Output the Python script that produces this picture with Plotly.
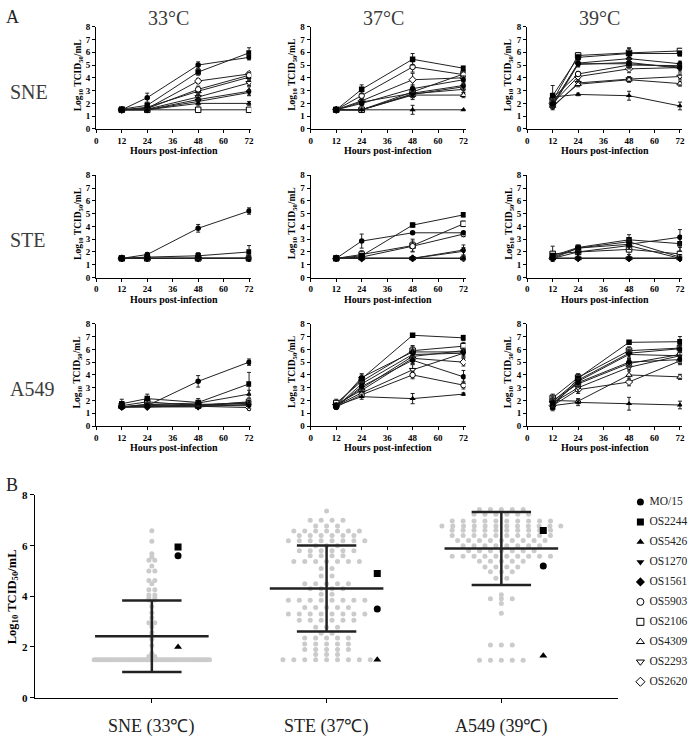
import plotly.graph_objects as go

W, H = 696, 743

STRAINS = ["MO/15", "OS2244", "OS5426", "OS1270", "OS1561",
           "OS5903", "OS2106", "OS4309", "OS2293", "OS2620"]
SYMBOLS = ["circle", "square", "triangle-up", "triangle-down", "diamond",
           "circle", "square", "triangle-up", "triangle-down", "diamond"]
FILLED = [True, True, True, True, True, False, False, False, False, False]
HOURS = [12, 24, 48, 72]
TEMPS = ["33°C", "37°C", "39°C"]
CELLS = ["SNE", "STE", "A549"]

# ---- Panel A data (log10 TCID50/mL), strain order as STRAINS ----
SNE_33 = [[1.5, 2.45, 5.0, 5.6], [1.55, 1.85, 4.45, 5.95], [1.5, 1.5, 2.0, 2.0],
          [1.5, 1.5, 2.15, 2.85], [1.5, 1.5, 2.3, 2.95], [1.5, 1.6, 3.1, 4.2],
          [1.5, 1.5, 1.5, 1.5], [1.5, 1.7, 2.95, 4.05], [1.5, 1.55, 2.5, 3.6],
          [1.5, 1.6, 3.75, 4.3]]
SNE_33_SD = [[0.1, 0.35, 0.25, 0.2], [0.1, 0.2, 0.25, 0.4], [0, 0, 0.2, 0.15],
             [0, 0.1, 0.2, 0.2], [0, 0.1, 0.2, 0.35], [0, 0.1, 0.25, 0.15],
             [0, 0, 0.05, 0], [0, 0.1, 0.2, 0.2], [0, 0.1, 0.2, 0.2], [0, 0.1, 0.2, 0.15]]
SNE_37 = [[1.5, 2.0, 3.15, 3.85], [1.5, 3.1, 5.45, 4.75], [1.5, 1.5, 1.5, 1.5],
          [1.5, 1.5, 2.7, 3.3], [1.5, 2.1, 2.8, 3.4], [1.5, 2.6, 4.85, 4.25],
          [1.5, 1.5, 2.9, 4.3], [1.5, 1.5, 2.65, 2.65], [1.5, 1.5, 2.75, 3.1],
          [1.5, 2.2, 3.85, 4.0]]
SNE_37_SD = [[0, 0.2, 0.3, 0.3], [0.1, 0.35, 0.45, 0.15], [0, 0, 0.35, 0],
             [0, 0, 0.25, 0.3], [0, 0.15, 0.3, 0.3], [0.1, 0.3, 0.4, 0.2],
             [0, 0, 0.3, 0.2], [0, 0, 0.35, 0.2], [0, 0, 0.3, 0.3], [0, 0.2, 0.5, 0.2]]
SNE_39 = [[2.0, 5.1, 5.1, 4.85], [2.6, 5.6, 5.9, 5.9], [2.5, 2.7, 2.6, 1.8],
          [1.8, 5.05, 5.2, 4.75], [1.9, 5.15, 5.5, 5.1], [2.4, 4.3, 5.0, 4.95],
          [2.2, 5.75, 5.95, 6.1], [1.8, 3.5, 3.85, 3.55], [1.7, 3.6, 3.9, 4.1],
          [2.0, 4.1, 4.7, 4.8]]
SNE_39_SD = [[0.3, 0.2, 0.3, 0.2], [0.8, 0.2, 0.4, 0.2], [0.3, 0.1, 0.35, 0.3],
             [0.2, 0.2, 0.3, 0.3], [0.3, 0.2, 0.3, 0.2], [0.3, 0.2, 0.3, 0.2],
             [0.4, 0.2, 0.4, 0.15], [0.2, 0.2, 0.2, 0.2], [0.2, 0.2, 0.2, 0.2],
             [0.2, 0.2, 0.3, 0.2]]
STE_33 = [[1.5, 1.8, 3.85, 5.2], [1.5, 1.6, 1.7, 2.0], [1.5, 1.5, 1.5, 1.5],
          [1.5, 1.5, 1.5, 1.5], [1.5, 1.5, 1.5, 1.5], [1.5, 1.5, 1.5, 1.5],
          [1.5, 1.5, 1.5, 1.5], [1.5, 1.5, 1.5, 1.5], [1.5, 1.5, 1.5, 1.5],
          [1.5, 1.5, 1.5, 1.5]]
STE_33_SD = [[0, 0.15, 0.3, 0.25], [0, 0.1, 0.25, 0.5], [0, 0, 0, 0], [0, 0, 0, 0],
             [0, 0, 0, 0], [0, 0, 0, 0], [0, 0, 0, 0], [0, 0, 0, 0], [0, 0, 0, 0],
             [0, 0, 0, 0]]
STE_37 = [[1.5, 2.85, 3.5, 3.5], [1.5, 1.7, 4.1, 4.9], [1.5, 1.5, 1.5, 1.5],
          [1.5, 1.5, 1.5, 2.05], [1.5, 1.5, 1.5, 2.15], [1.5, 1.6, 2.45, 3.4],
          [1.5, 1.8, 2.5, 4.2], [1.5, 1.5, 1.5, 1.5], [1.5, 1.5, 1.5, 1.5],
          [1.5, 1.5, 1.5, 1.5]]
STE_37_SD = [[0, 0.55, 0.1, 0.1], [0, 0.1, 0.15, 0.15], [0, 0, 0, 0], [0, 0, 0, 0.3],
             [0, 0, 0, 0.4], [0, 0.2, 0.4, 0.2], [0, 0.3, 0.5, 0.2], [0, 0, 0, 0],
             [0, 0, 0, 0], [0, 0, 0, 0]]
STE_39 = [[1.5, 2.3, 2.6, 3.15], [1.7, 2.35, 2.95, 2.65], [1.5, 1.5, 1.5, 1.5],
          [1.5, 1.5, 1.5, 1.5], [1.5, 2.0, 2.5, 1.5], [1.6, 2.3, 2.8, 1.6],
          [1.85, 2.0, 2.2, 1.85], [1.5, 1.5, 1.5, 1.5], [1.5, 1.5, 1.5, 1.5],
          [1.5, 1.5, 1.5, 1.5]]
STE_39_SD = [[0, 0.2, 0.4, 0.6], [0.2, 0.2, 0.4, 0.6], [0, 0, 0, 0], [0, 0, 0, 0],
             [0, 0.2, 0.3, 0], [0.2, 0.2, 0.3, 0.2], [0.6, 0.2, 0.4, 0.5], [0, 0, 0, 0],
             [0, 0, 0, 0], [0, 0, 0, 0]]
A549_33 = [[1.5, 1.6, 3.5, 5.0], [1.75, 2.15, 1.85, 3.3], [1.5, 1.7, 1.8, 2.5],
           [1.5, 1.5, 1.6, 1.6], [1.5, 1.5, 1.5, 1.7], [1.5, 1.7, 1.6, 1.8],
           [1.6, 1.9, 1.6, 1.9], [1.5, 1.6, 1.7, 1.75], [1.5, 1.55, 1.65, 1.85],
           [1.5, 1.5, 1.55, 1.45]]
A549_33_SD = [[0, 0.1, 0.45, 0.25], [0.35, 0.35, 0.3, 0.9], [0, 0.1, 0.2, 0.3],
              [0, 0.1, 0.1, 0.2], [0, 0.1, 0.1, 0.2], [0, 0.1, 0.1, 0.2],
              [0.2, 0.3, 0.2, 0.2], [0, 0.1, 0.1, 0.2], [0, 0.1, 0.1, 0.2],
              [0, 0.1, 0.1, 0.2]]
A549_37 = [[1.5, 3.1, 5.15, 3.85], [1.6, 3.7, 7.1, 6.9], [1.6, 2.3, 2.15, 2.5],
           [1.5, 3.3, 5.6, 5.7], [1.6, 3.8, 5.8, 5.8], [1.5, 2.45, 4.0, 3.2],
           [1.8, 3.5, 5.9, 6.25], [1.6, 2.95, 5.45, 5.9], [1.6, 2.6, 4.4, 5.7],
           [1.7, 2.8, 5.3, 5.0]]
A549_37_SD = [[0.1, 0.3, 0.3, 0.5], [0.2, 0.3, 0.1, 0.2], [0.1, 0.2, 0.4, 0.1],
              [0.2, 0.3, 0.4, 0.3], [0.2, 0.3, 0.4, 0.3], [0.1, 0.2, 0.3, 0.3],
              [0.3, 0.3, 0.4, 0.3], [0.2, 0.3, 0.4, 0.3], [0.2, 0.3, 0.4, 0.3],
              [0.2, 0.3, 0.4, 0.3]]
A549_39 = [[1.8, 3.4, 5.0, 5.2], [1.5, 3.75, 6.55, 6.6], [1.6, 1.85, 1.75, 1.65],
           [1.7, 3.5, 5.6, 5.5], [1.9, 3.6, 5.7, 6.05], [2.0, 3.3, 4.9, 5.6],
           [2.2, 3.8, 5.9, 6.1], [2.0, 1.95, 4.0, 3.85], [1.8, 3.0, 4.6, 5.5],
           [1.6, 2.85, 3.45, 5.1]]
A549_39_SD = [[0.3, 0.3, 0.3, 0.3], [0.3, 0.3, 0.1, 0.4], [0.1, 0.25, 0.5, 0.3],
              [0.3, 0.3, 0.3, 0.3], [0.3, 0.3, 0.3, 0.3], [0.3, 0.3, 0.3, 0.3],
              [0.3, 0.3, 0.3, 0.3], [0.2, 0.2, 0.4, 0.2], [0.3, 0.3, 0.3, 0.3],
              [0.3, 0.3, 0.3, 0.3]]

PANELS = [[SNE_33, SNE_37, SNE_39], [STE_33, STE_37, STE_39], [A549_33, A549_37, A549_39]]
PANEL_SD = [[SNE_33_SD, SNE_37_SD, SNE_39_SD], [STE_33_SD, STE_37_SD, STE_39_SD],
            [A549_33_SD, A549_37_SD, A549_39_SD]]

# ---- Panel B data ----
B_GROUPS = ["SNE (33℃)", "STE (37℃)", "A549 (39℃)"]
SNE_LEVELS = [1.5, 1.62, 1.75, 2.06, 2.3, 2.45, 2.57, 2.8, 2.96, 3.15, 3.35, 3.6, 3.85,
              3.93, 4.05, 4.26, 4.5, 4.62, 5.0, 5.2, 5.42, 5.55, 5.68, 6.17, 6.59]
SNE_COUNTS = [55, 2, 1, 1, 1, 1, 1, 1, 2, 1, 1, 1, 2, 2, 2, 2, 1, 2, 2, 1, 2, 1, 1, 1, 1]
STE_LEVELS = [7.37, 7.0, 6.78, 6.58, 6.4, 6.19, 6.0, 5.8, 5.6, 5.37, 5.1, 4.8, 4.5, 4.3,
              4.08, 3.84, 3.56, 3.3, 3.05, 2.78, 2.54, 2.35, 2.12, 1.9, 1.7, 1.5]
STE_COUNTS = [1, 4, 3, 7, 6, 8, 3, 6, 4, 7, 2, 2, 5, 4, 2, 8, 5, 8, 6, 3, 2, 5, 5, 5, 3, 9]
A549_LEVELS = [7.43, 7.24, 6.97, 6.78, 6.61, 6.4, 6.2, 6.0, 5.8, 5.58, 5.38, 5.16, 4.97,
               4.71, 4.06, 3.9, 3.72, 3.33, 2.08, 1.48]
A549_COUNTS = [5, 6, 10, 12, 10, 10, 9, 8, 7, 10, 5, 4, 3, 2, 1, 3, 1, 1, 3, 5]
B_MEAN = [2.42, 4.31, 5.89]
B_SD = [1.41, 1.70, 1.44]
REF_STRAINS = [0, 1, 2]  # MO/15, OS2244, OS5426 shown at 72 h of matching panel

# ---- styling / layout constants ----
FONT = "Liberation Serif"
GREY_TXT = "#3c3c3c"
COL_X0 = [95, 311, 529]
PANEL_W = 156
ROW_Y0 = [21, 172, 323]
PANEL_H = 104
B_X = (33, 620)
B_Y = (497, 703)
B_RANGE = [-0.67, 2.665]
SWARM = [dict(spacing=0.034, maxhalf=0.33), dict(spacing=0.0625, maxhalf=0.30),
         dict(spacing=0.0625, maxhalf=0.34)]
REF_OFFSET = [0.15, 0.29, 0.24]
LEG_X = (636, 696)
LEG_Y = (494, 697)
LEG_COLS = [0.117, 0.27]


def fx(p):
    return p / W


def fy(p):
    return 1 - p / H


def mstyle(i, size):
    if FILLED[i]:
        return dict(symbol=SYMBOLS[i], size=size, color="black", line=dict(width=0))
    return dict(symbol=SYMBOLS[i], size=size, color="white", line=dict(color="black", width=1))


fig = go.Figure()
layout = dict(width=W, height=H, margin=dict(l=0, r=0, t=0, b=0, pad=0), autosize=False,
              plot_bgcolor="white", paper_bgcolor="white", showlegend=False,
              font=dict(family=FONT, color="black"))
annotations = []

axis_common = dict(showline=True, linecolor="black", linewidth=1.3, ticks="outside",
                   ticklen=3, tickwidth=1, tickcolor="black", showgrid=False, zeroline=False,
                   tickfont=dict(family=FONT, size=9, color="black", weight="bold"))

for r in range(3):
    for c in range(3):
        k = r * 3 + c + 1
        sx = "" if k == 1 else str(k)
        x0 = COL_X0[c]
        y0 = ROW_Y0[r]
        layout["xaxis" + sx] = dict(axis_common, domain=[fx(x0), fx(x0 + PANEL_W)],
                                    range=[0, 73], tickvals=[0, 12, 24, 36, 48, 60, 72],
                                    anchor="y" + sx)
        layout["yaxis" + sx] = dict(axis_common, domain=[fy(y0 + PANEL_H), fy(y0)],
                                    range=[0, 8], tickvals=list(range(9)), anchor="x" + sx)
        data = PANELS[r][c]
        sd = PANEL_SD[r][c]
        for i in reversed(range(len(STRAINS))):
            fig.add_trace(go.Scatter(
                x=HOURS, y=data[i], mode="lines+markers", xaxis="x" + sx, yaxis="y" + sx,
                line=dict(color="#222", width=1), marker=mstyle(i, 5.5),
                error_y=dict(type="data", array=sd[i], color="#222", thickness=1, width=2),
                showlegend=False, name=STRAINS[i]))
        annotations.append(dict(text="<b>Hours post-infection</b>", xref="paper", yref="paper",
                                x=fx(x0 + PANEL_W / 2), y=fy(y0 + PANEL_H + 22), showarrow=False,
                                font=dict(family=FONT, size=10), xanchor="center", yanchor="middle"))
        annotations.append(dict(text="<b>Log<sub>10</sub> TCID<sub>50</sub>/mL</b>", xref="paper",
                                yref="paper", x=fx(x0 - 18), y=fy(y0 + PANEL_H / 2 - 3),
                                showarrow=False, textangle=-90, font=dict(family=FONT, size=9.5),
                                xanchor="center", yanchor="middle"))

for c, t in enumerate(TEMPS):
    annotations.append(dict(text=t, xref="paper", yref="paper", x=fx(COL_X0[c] + 73),
                            y=fy(12), showarrow=False, xanchor="center", yanchor="middle",
                            font=dict(family=FONT, size=20, color=GREY_TXT)))
for r, t in enumerate(CELLS):
    annotations.append(dict(text=t, xref="paper", yref="paper", x=fx(6),
                            y=fy(ROW_Y0[r] + 66), showarrow=False, xanchor="left", yanchor="middle",
                            font=dict(family=FONT, size=20, color=GREY_TXT)))
annotations.append(dict(text="A", xref="paper", yref="paper", x=fx(2), y=fy(11), showarrow=False,
                        xanchor="left", yanchor="middle", font=dict(family=FONT, size=18, color="#222")))
annotations.append(dict(text="B", xref="paper", yref="paper", x=fx(2), y=fy(487), showarrow=False,
                        xanchor="left", yanchor="middle", font=dict(family=FONT, size=18, color="#222")))

# ---- Panel B ----
layout["xaxis10"] = dict(axis_common, domain=[fx(B_X[0]), fx(B_X[1])], range=B_RANGE,
                         tickvals=[0, 1, 2], showticklabels=False, ticklen=4, anchor="y10")
layout["yaxis10"] = dict(axis_common, domain=[fy(B_Y[1]), fy(B_Y[0])], range=[0, 8],
                         tickvals=[0, 2, 4, 6, 8], ticklen=4, anchor="x10",
                         tickfont=dict(family=FONT, size=11, color="black", weight="bold"))


def swarm(levels, counts, spacing, maxhalf):
    xs, ys = [], []
    for v, n in zip(levels, counts):
        sp = spacing if n <= 1 else min(spacing, 2 * maxhalf / (n - 1))
        for j in range(n):
            xs.append((j - (n - 1) / 2) * sp)
            ys.append(v)
    return xs, ys


for g, (lv, ct) in enumerate([(SNE_LEVELS, SNE_COUNTS), (STE_LEVELS, STE_COUNTS),
                              (A549_LEVELS, A549_COUNTS)]):
    ox, oy = swarm(lv, ct, **SWARM[g])
    fig.add_trace(go.Scatter(x=[g + o for o in ox], y=oy, mode="markers", xaxis="x10",
                             yaxis="y10", marker=dict(size=5, color="#cbcbcb"),
                             showlegend=False))
    m, s = B_MEAN[g], B_SD[g]
    for yy, half in [(m, 0.325), (m + s, 0.17), (m - s, 0.17)]:
        fig.add_trace(go.Scatter(x=[g - half, g + half], y=[yy, yy], mode="lines",
                                 xaxis="x10", yaxis="y10", line=dict(color="#222", width=2.5),
                                 showlegend=False))
    fig.add_trace(go.Scatter(x=[g, g], y=[m - s, m + s], mode="lines", xaxis="x10", yaxis="y10",
                             line=dict(color="#222", width=2.5), showlegend=False))
    src = PANELS[g][g]
    for i in REF_STRAINS:
        fig.add_trace(go.Scatter(x=[g + REF_OFFSET[g]], y=[src[i][-1]], mode="markers",
                                 xaxis="x10", yaxis="y10", marker=mstyle(i, 7),
                                 showlegend=False))
    annotations.append(dict(text=B_GROUPS[g], xref="x10", yref="paper", x=g, y=fy(732),
                            showarrow=False, xanchor="center", yanchor="middle",
                            font=dict(family=FONT, size=18, color="#222")))

annotations.append(dict(text="<b>Log<sub>10</sub> TCID<sub>50</sub>/mL</b>", xref="paper",
                        yref="paper", x=fx(11), y=fy(600), showarrow=False, textangle=-90,
                        font=dict(family=FONT, size=12.5), xanchor="center", yanchor="middle"))

# ---- Key (drawn on its own hidden axes, one row per strain) ----
hidden = dict(visible=False, showgrid=False, zeroline=False, fixedrange=True)
layout["xaxis11"] = dict(hidden, domain=[fx(LEG_X[0]), fx(LEG_X[1])], range=[0, 1], anchor="y11")
layout["yaxis11"] = dict(hidden, domain=[fy(LEG_Y[1]), fy(LEG_Y[0])],
                         range=[len(STRAINS) - 0.5, -0.5], anchor="x11")
for i, s in enumerate(STRAINS):
    fig.add_trace(go.Scatter(x=[LEG_COLS[0]], y=[i], mode="markers", xaxis="x11", yaxis="y11",
                             marker=mstyle(i, 7), showlegend=False, hoverinfo="skip"))
fig.add_trace(go.Scatter(x=[LEG_COLS[1]] * len(STRAINS), y=list(range(len(STRAINS))),
                         mode="text", text=STRAINS, textposition="middle right",
                         textfont=dict(family=FONT, size=11.5, color="#222"),
                         xaxis="x11", yaxis="y11", showlegend=False, hoverinfo="skip"))

layout["annotations"] = annotations
fig.update_layout(**layout)
fig.write_html("out.html", config={"displayModeBar": False},
               post_script="document.body.style.margin='0';")
